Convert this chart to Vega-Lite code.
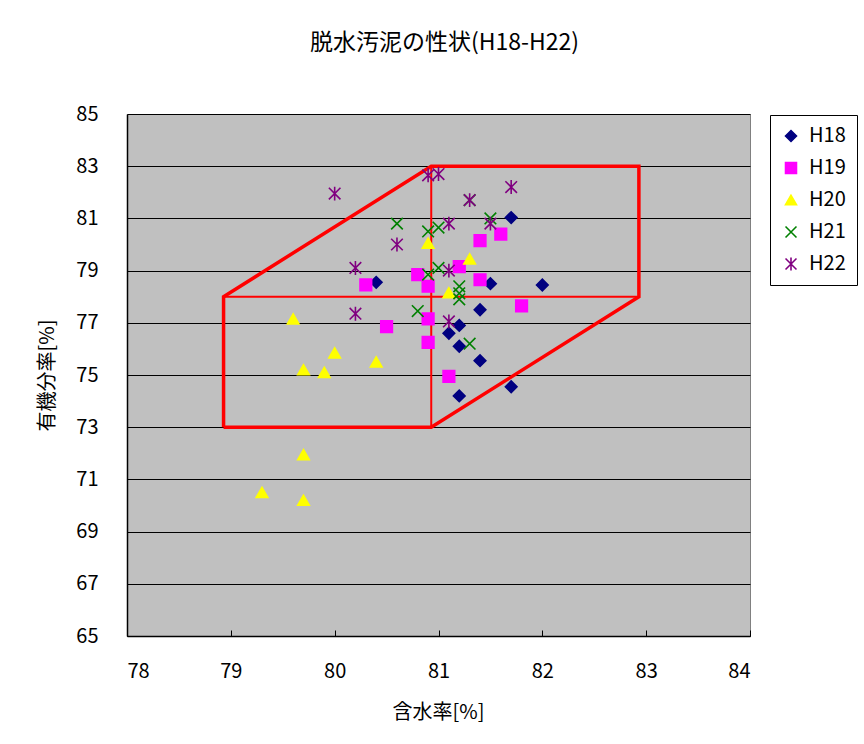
{
  "$schema": "https://vega.github.io/schema/vega-lite/v6.json",
  "autosize": {"type": "none"},
  "width": 623,
  "height": 522,
  "padding": {"left": 127, "top": 114, "right": 114, "bottom": 108},
  "background": "white",
  "config": {
    "font": "Noto Sans CJK JP",
    "view": {"fill": "#C0C0C0", "stroke": "#808080", "strokeWidth": 1}
  },
  "title": {
    "text": "脱水汚泥の性状(H18-H22)",
    "fontSize": 23,
    "fontWeight": "normal",
    "color": "black",
    "offset": 49,
    "dx": 6
  },
  "datasets": {
    "pts": [
      {"s": "H18", "x": 80.4, "y": 78.55},
      {"s": "H18", "x": 81.7, "y": 81.03},
      {"s": "H18", "x": 81.5, "y": 78.5},
      {"s": "H18", "x": 82.0, "y": 78.45},
      {"s": "H18", "x": 81.4, "y": 77.5},
      {"s": "H18", "x": 81.2, "y": 76.9},
      {"s": "H18", "x": 81.1, "y": 76.6},
      {"s": "H18", "x": 81.2, "y": 76.1},
      {"s": "H18", "x": 81.4, "y": 75.55},
      {"s": "H18", "x": 81.7, "y": 74.55},
      {"s": "H18", "x": 81.2, "y": 74.2},
      {"s": "H19", "x": 80.3, "y": 78.45},
      {"s": "H19", "x": 80.8, "y": 78.85},
      {"s": "H19", "x": 81.4, "y": 80.15},
      {"s": "H19", "x": 81.6, "y": 80.4},
      {"s": "H19", "x": 81.2, "y": 79.15},
      {"s": "H19", "x": 80.9, "y": 78.4},
      {"s": "H19", "x": 81.4, "y": 78.65},
      {"s": "H19", "x": 81.8, "y": 77.65},
      {"s": "H19", "x": 80.9, "y": 77.15},
      {"s": "H19", "x": 80.9, "y": 76.25},
      {"s": "H19", "x": 81.1, "y": 74.95},
      {"s": "H19", "x": 80.5, "y": 76.85},
      {"s": "H20", "x": 80.9, "y": 80.05},
      {"s": "H20", "x": 81.3, "y": 79.45},
      {"s": "H20", "x": 81.1, "y": 78.15},
      {"s": "H20", "x": 79.6, "y": 77.15},
      {"s": "H20", "x": 80.0, "y": 75.85},
      {"s": "H20", "x": 79.7, "y": 75.2},
      {"s": "H20", "x": 79.9, "y": 75.1},
      {"s": "H20", "x": 80.4, "y": 75.5},
      {"s": "H20", "x": 79.7, "y": 71.95},
      {"s": "H20", "x": 79.3, "y": 70.5},
      {"s": "H20", "x": 79.7, "y": 70.2},
      {"s": "H21", "x": 80.6, "y": 80.8},
      {"s": "H21", "x": 81.3, "y": 81.7},
      {"s": "H21", "x": 81.5, "y": 81.0},
      {"s": "H21", "x": 80.9, "y": 80.5},
      {"s": "H21", "x": 81.0, "y": 80.65},
      {"s": "H21", "x": 81.0, "y": 79.1},
      {"s": "H21", "x": 80.9, "y": 78.85},
      {"s": "H21", "x": 81.2, "y": 78.4},
      {"s": "H21", "x": 81.2, "y": 78.13},
      {"s": "H21", "x": 81.2, "y": 77.9},
      {"s": "H21", "x": 80.8, "y": 77.45},
      {"s": "H21", "x": 81.3, "y": 76.2},
      {"s": "H22", "x": 80.0, "y": 81.95},
      {"s": "H22", "x": 80.6, "y": 80.0},
      {"s": "H22", "x": 80.2, "y": 79.1},
      {"s": "H22", "x": 80.2, "y": 77.35},
      {"s": "H22", "x": 80.9, "y": 82.65},
      {"s": "H22", "x": 81.0, "y": 82.7},
      {"s": "H22", "x": 81.7, "y": 82.2},
      {"s": "H22", "x": 81.3, "y": 81.7},
      {"s": "H22", "x": 81.1, "y": 80.8},
      {"s": "H22", "x": 81.5, "y": 80.8},
      {"s": "H22", "x": 81.1, "y": 79.0},
      {"s": "H22", "x": 81.1, "y": 77.05}
    ],
    "outline": [
      {"o": 1, "x": 78.93, "y": 73},
      {"o": 2, "x": 78.93, "y": 78},
      {"o": 3, "x": 80.93, "y": 83},
      {"o": 4, "x": 82.93, "y": 83},
      {"o": 5, "x": 82.93, "y": 78},
      {"o": 6, "x": 80.93, "y": 73},
      {"o": 7, "x": 78.93, "y": 73}
    ],
    "inner": [
      {"seg": "h", "o": 1, "x": 78.93, "y": 78},
      {"seg": "h", "o": 2, "x": 82.93, "y": 78},
      {"seg": "v", "o": 1, "x": 80.93, "y": 73},
      {"seg": "v", "o": 2, "x": 80.93, "y": 83}
    ]
  },
  "encoding": {
    "x": {
      "field": "x", "type": "quantitative",
      "scale": {"domain": [78, 84], "nice": false, "zero": false},
      "axis": {
        "values": [78, 79, 80, 81, 82, 83, 84],
        "grid": false,
        "tickSize": -6,
        "tickColor": "black",
        "domainColor": "black",
        "domainWidth": 1.5,
        "labelFontSize": 20,
        "labelColor": "black",
        "labelPadding": 31,
        "title": "含水率[%]",
        "titleFontSize": 20,
        "titleFontWeight": "normal",
        "titleColor": "black",
        "titleX": 311,
        "titleY": 76,
        "titleBaseline": "middle",
        "titleAlign": "center"
      }
    },
    "y": {
      "field": "y", "type": "quantitative",
      "scale": {"domain": [65, 85], "nice": false, "zero": false},
      "axis": {
        "values": [65, 67, 69, 71, 73, 75, 77, 79, 81, 83, 85],
        "grid": true,
        "gridColor": "black",
        "gridOpacity": 1,
        "gridWidth": 1,
        "ticks": false,
        "domainColor": "black",
        "domainWidth": 1.5,
        "labelFontSize": 20,
        "labelColor": "black",
        "labelPadding": 29,
        "title": "有機分率[%]",
        "titleFontSize": 20,
        "titleFontWeight": "normal",
        "titleColor": "black",
        "titleX": -80,
        "titleY": 261,
        "titleAngle": -90,
        "titleBaseline": "middle",
        "titleAlign": "center"
      }
    }
  },
  "layer": [
    {
      "data": {"name": "inner"},
      "mark": {"type": "line", "color": "#FF0000", "strokeWidth": 2, "strokeCap": "butt"},
      "encoding": {
        "detail": {"field": "seg"},
        "order": {"field": "o", "type": "quantitative"}
      }
    },
    {
      "data": {"name": "outline"},
      "mark": {"type": "line", "color": "#FF0000", "strokeWidth": 3.5, "strokeJoin": "miter"},
      "encoding": {
        "order": {"field": "o", "type": "quantitative"}
      }
    },
    {
      "data": {"name": "pts"},
      "mark": {"type": "point", "size": 135, "strokeWidth": 1.6, "opacity": 1},
      "encoding": {
        "shape": {
          "field": "s", "type": "nominal",
          "scale": {
            "domain": ["H18", "H19", "H20", "H21", "H22"],
            "range": ["diamond", "square", "triangle-up", "M-1,-1L1,1M-1,1L1,-1", "M-1,-1L1,1M-1,1L1,-1M0,-1.2L0,1.2"]
          },
          "legend": {
            "title": null,
            "orient": "none",
            "legendX": 643,
            "legendY": 1,
            "fillColor": "white",
            "strokeColor": "black",
            "padding": 11,
            "rowPadding": 12,
            "labelFontSize": 20,
            "labelColor": "black",
            "symbolSize": 120,
            "symbolStrokeWidth": 1.6,
            "labelOffset": 8,
            "cornerRadius": 0
          }
        },
        "fill": {
          "field": "s", "type": "nominal",
          "scale": {
            "domain": ["H18", "H19", "H20", "H21", "H22"],
            "range": ["#000080", "#FF00FF", "#FFFF00", "transparent", "transparent"]
          },
          "legend": {
            "title": null,
            "orient": "none",
            "legendX": 643,
            "legendY": 1,
            "fillColor": "white",
            "strokeColor": "black",
            "padding": 11,
            "rowPadding": 12,
            "labelFontSize": 20,
            "labelColor": "black",
            "symbolSize": 120,
            "symbolStrokeWidth": 1.6,
            "labelOffset": 8,
            "cornerRadius": 0
          }
        },
        "stroke": {
          "field": "s", "type": "nominal",
          "scale": {
            "domain": ["H18", "H19", "H20", "H21", "H22"],
            "range": ["#000080", "#FF00FF", "#FFFF00", "#008000", "#800080"]
          },
          "legend": {
            "title": null,
            "orient": "none",
            "legendX": 643,
            "legendY": 1,
            "fillColor": "white",
            "strokeColor": "black",
            "padding": 11,
            "rowPadding": 12,
            "labelFontSize": 20,
            "labelColor": "black",
            "symbolSize": 120,
            "symbolStrokeWidth": 1.6,
            "labelOffset": 8,
            "cornerRadius": 0
          }
        }
      }
    }
  ]
}
